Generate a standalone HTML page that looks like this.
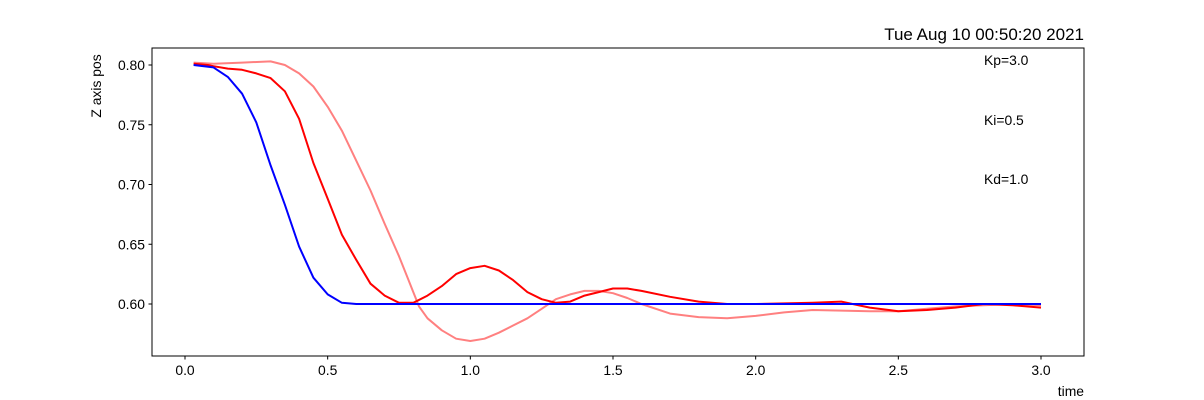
<!DOCTYPE html>
<html><head><meta charset="utf-8"><style>
body{margin:0;background:#fff;}
svg{display:block;font-family:"Liberation Sans","DejaVu Sans",sans-serif;}
</style></head><body>
<svg id="chart" width="1204" height="400">
<rect x="0" y="0" width="1204" height="400" fill="#fff"/>
<g id="series"></g>
<rect x="152" y="48" width="932" height="308" fill="none" stroke="#000" stroke-width="1"/>
<g id="xticks"></g>
<g id="yticks"></g>
<text x="1084" y="40" text-anchor="end" font-size="17">Tue Aug 10 00:50:20 2021</text>
<text x="1084" y="396" text-anchor="end" font-size="13.9">time</text>
<text transform="translate(101,86) rotate(-90)" text-anchor="middle" font-size="13.9">Z axis pos</text>
<text x="984" y="65" font-size="13.9">Kp=3.0</text>
<text x="984" y="125" font-size="13.9">Ki=0.5</text>
<text x="984" y="184" font-size="13.9">Kd=1.0</text>
</svg>
<script>
const xTicks=[0,0.5,1,1.5,2,2.5,3];
const xTickLabels=["0.0","0.5","1.0","1.5","2.0","2.5","3.0"];
const yTicks=[0.60,0.65,0.70,0.75,0.80];
const yTickLabels=["0.60","0.65","0.70","0.75","0.80"];
const blueT=[0.03,0.1,0.15,0.2,0.25,0.3,0.35,0.4,0.45,0.5,0.55,0.6,1.0,2.0,3.0];
const blueV=[0.800,0.798,0.790,0.776,0.752,0.716,0.683,0.648,0.622,0.608,0.601,0.600,0.600,0.600,0.600];
const redT=[0.03,0.08,0.1,0.15,0.2,0.25,0.3,0.35,0.4,0.45,0.5,0.55,0.6,0.65,0.7,0.75,0.8,0.85,0.9,0.95,1.0,1.05,1.1,1.15,1.2,1.25,1.3,1.35,1.4,1.45,1.5,1.55,1.6,1.7,1.8,1.9,2.0,2.2,2.3,2.4,2.5,2.6,2.7,2.8,2.9,3.0];
const redV=[0.801,0.800,0.799,0.797,0.796,0.793,0.789,0.778,0.755,0.718,0.688,0.658,0.637,0.617,0.607,0.601,0.601,0.607,0.615,0.625,0.630,0.632,0.628,0.620,0.610,0.604,0.601,0.602,0.607,0.610,0.613,0.613,0.611,0.606,0.602,0.600,0.600,0.601,0.602,0.597,0.594,0.595,0.597,0.600,0.599,0.597];
const pinkT=[0.03,0.1,0.2,0.3,0.35,0.4,0.45,0.5,0.55,0.6,0.65,0.7,0.75,0.78,0.8,0.82,0.85,0.9,0.95,1.0,1.05,1.1,1.15,1.2,1.25,1.3,1.35,1.4,1.45,1.5,1.55,1.6,1.7,1.8,1.9,2.0,2.1,2.2,2.4,2.5,2.6,2.7,2.8,2.9,3.0];
const pinkV=[0.802,0.801,0.802,0.803,0.800,0.793,0.782,0.765,0.745,0.720,0.695,0.667,0.640,0.622,0.610,0.598,0.588,0.578,0.571,0.569,0.571,0.576,0.582,0.588,0.596,0.604,0.608,0.611,0.611,0.609,0.605,0.600,0.592,0.589,0.588,0.590,0.593,0.595,0.594,0.594,0.596,0.598,0.599,0.600,0.599];
const NS="http://www.w3.org/2000/svg";
function xs(t){return 185+(t-0)*(1041-185)/3;}
function ys(v){return 304-(v-0.60)*(239/0.2);}
const g=document.getElementById('series');
function line(T,V,color,name){
  const p=document.createElementNS(NS,'polyline');
  p.setAttribute('points',T.map((t,i)=>xs(t).toFixed(1)+','+ys(V[i]).toFixed(1)).join(' '));
  p.setAttribute('fill','none');p.setAttribute('stroke',color);p.setAttribute('stroke-width','2');
  p.setAttribute('stroke-linejoin','round');
  
  
  g.appendChild(p);
}
line(pinkT,pinkV,'#ff8080','series-pink');
line(redT,redV,'#ff0000','series-red');
line(blueT,blueV,'#0000ff','series-blue');
const xg=document.getElementById('xticks');
xTicks.forEach((t,i)=>{
  const l=document.createElementNS(NS,'line');
  l.setAttribute('x1',xs(t));l.setAttribute('x2',xs(t));l.setAttribute('y1',356);l.setAttribute('y2',359.5);l.setAttribute('stroke','#000');
  
  
  xg.appendChild(l);
  const tx=document.createElementNS(NS,'text');
  tx.setAttribute('x',xs(t));tx.setAttribute('y',375);tx.setAttribute('text-anchor','middle');tx.setAttribute('font-size','13.9');
  tx.textContent=xTickLabels[i];
  
  
  xg.appendChild(tx);
});
const yg=document.getElementById('yticks');
yTicks.forEach((v,i)=>{
  const l=document.createElementNS(NS,'line');
  l.setAttribute('x1',148.5);l.setAttribute('x2',152);l.setAttribute('y1',ys(v));l.setAttribute('y2',ys(v));l.setAttribute('stroke','#000');
  
  
  yg.appendChild(l);
  const tx=document.createElementNS(NS,'text');
  tx.setAttribute('x',145);tx.setAttribute('y',ys(v)+5);tx.setAttribute('text-anchor','end');tx.setAttribute('font-size','13.9');
  tx.textContent=yTickLabels[i];
  
  
  yg.appendChild(tx);
});
</script>
</body></html>
